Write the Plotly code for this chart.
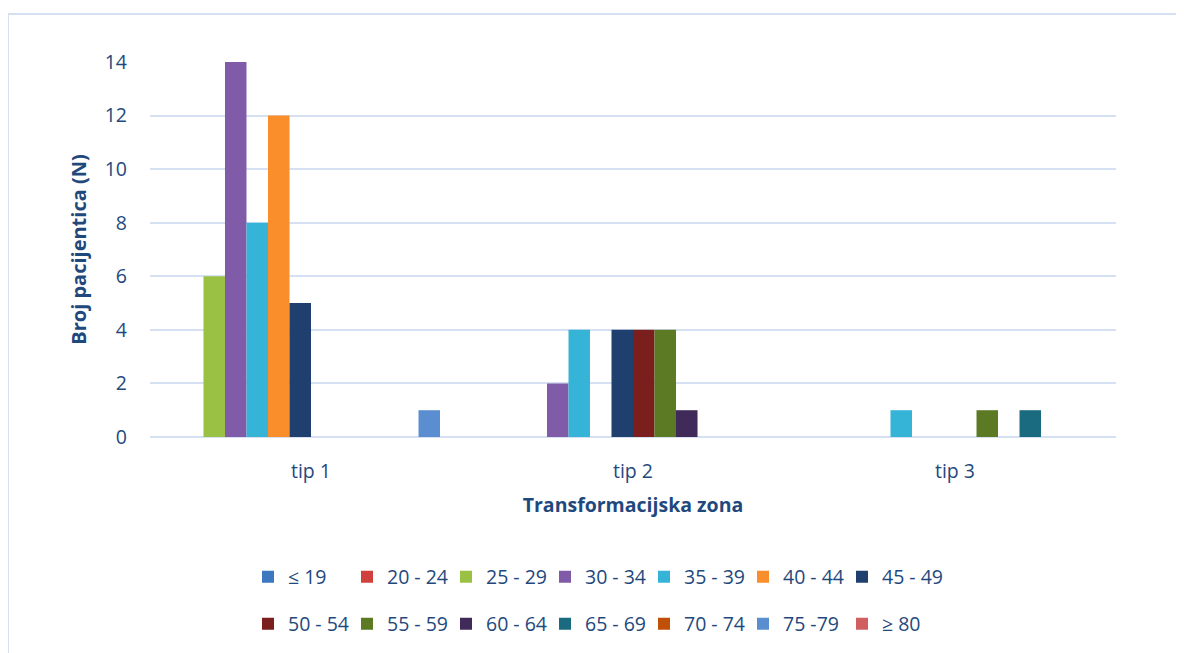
import plotly.graph_objects as go

categories = ["tip 1", "tip 2", "tip 3"]
series_names = ["≤ 19", "20 - 24", "25 - 29", "30 - 34", "35 - 39", "40 - 44", "45 - 49",
                "50 - 54", "55 - 59", "60 - 64", "65 - 69", "70 - 74", "75 -79", "≥ 80"]
series_values = [
    [0, 0, 0],
    [0, 0, 0],
    [6, 0, 0],
    [14, 2, 0],
    [8, 4, 1],
    [12, 0, 0],
    [5, 4, 0],
    [0, 4, 0],
    [0, 4, 1],
    [0, 1, 0],
    [0, 0, 1],
    [0, 0, 0],
    [1, 0, 0],
    [0, 0, 0],
]
colors = ["#3B78C0", "#D0403D", "#9BC144", "#7F5BA8", "#36B4D8", "#F98E2A", "#1F3F6E",
          "#7A1E1E", "#5C7A24", "#3F2A5A", "#1A6A80", "#C05008", "#5B8ED0", "#D06060"]

TXT = "#1F497D"
FONT = "Open Sans, Lato, sans-serif"

OFF = 8  # page body margin
W, H = 1184, 653
ML, MR, MT, MB = 150 - OFF, 76, 62 - OFF, 653 - (437 - OFF)
PW, PH = W - ML - MR, H - MT - MB

fig = go.Figure()
for i, (name, vals, c) in enumerate(zip(series_names, series_values, colors)):
    fig.add_trace(go.Bar(
        x=categories, y=vals, name=name,
        marker=dict(color=c, line=dict(width=0)),
        legend="legend" if i < 7 else "legend2",
        legendwidth=80 if i in (6, 13) else None,
    ))

def px2x(px):
    return (px - OFF - ML) / PW

def py2y(py):
    return (H - MB - (py - OFF)) / PH

legend_common = dict(
    orientation="h", xanchor="left", yanchor="middle",
    font=dict(family=FONT, size=19.5, color=TXT),
    entrywidth=54, entrywidthmode="pixels",
    bgcolor="rgba(0,0,0,0)", itemclick=False,
)

fig.update_layout(
    width=W, height=H,
    margin=dict(l=ML, r=MR, t=MT, b=MB),
    paper_bgcolor="white", plot_bgcolor="white",
    barmode="group", bargap=0.065, bargroupgap=0,
    font=dict(family=FONT, color=TXT),
    showlegend=True,
    legend=dict(x=px2x(248), y=py2y(577), **legend_common),
    legend2=dict(x=px2x(248), y=py2y(624), **legend_common),
    xaxis=dict(
        showgrid=False, zeroline=False, showline=False,
        ticks="", tickfont=dict(family=FONT, size=19.5, color=TXT),
        ticklabelstandoff=20,
        title=dict(text="<b>Transformacijska zona</b>", font=dict(family=FONT, size=19.5, color=TXT), standoff=15),
    ),
    yaxis=dict(
        range=[0, 14], dtick=2, showgrid=True, gridcolor="#D5E1F2", gridwidth=2,
        zeroline=True, zerolinecolor="#D5E1F2", zerolinewidth=2,
        showline=False, ticks="",
        tickfont=dict(family=FONT, size=19.5, color=TXT),
        ticklabelstandoff=22,
        title=dict(text="<b>Broj pacijentica (N)</b>", font=dict(family=FONT, size=20, color=TXT), standoff=12),
    ),
    shapes=[dict(
        type="rect", xref="paper", yref="paper",
        x0=px2x(8), x1=px2x(1250), y0=py2y(720), y1=py2y(14),
        line=dict(color="#D5E1F2", width=2), fillcolor="rgba(0,0,0,0)", layer="below",
    )],
)

fig.write_html("out.html")
